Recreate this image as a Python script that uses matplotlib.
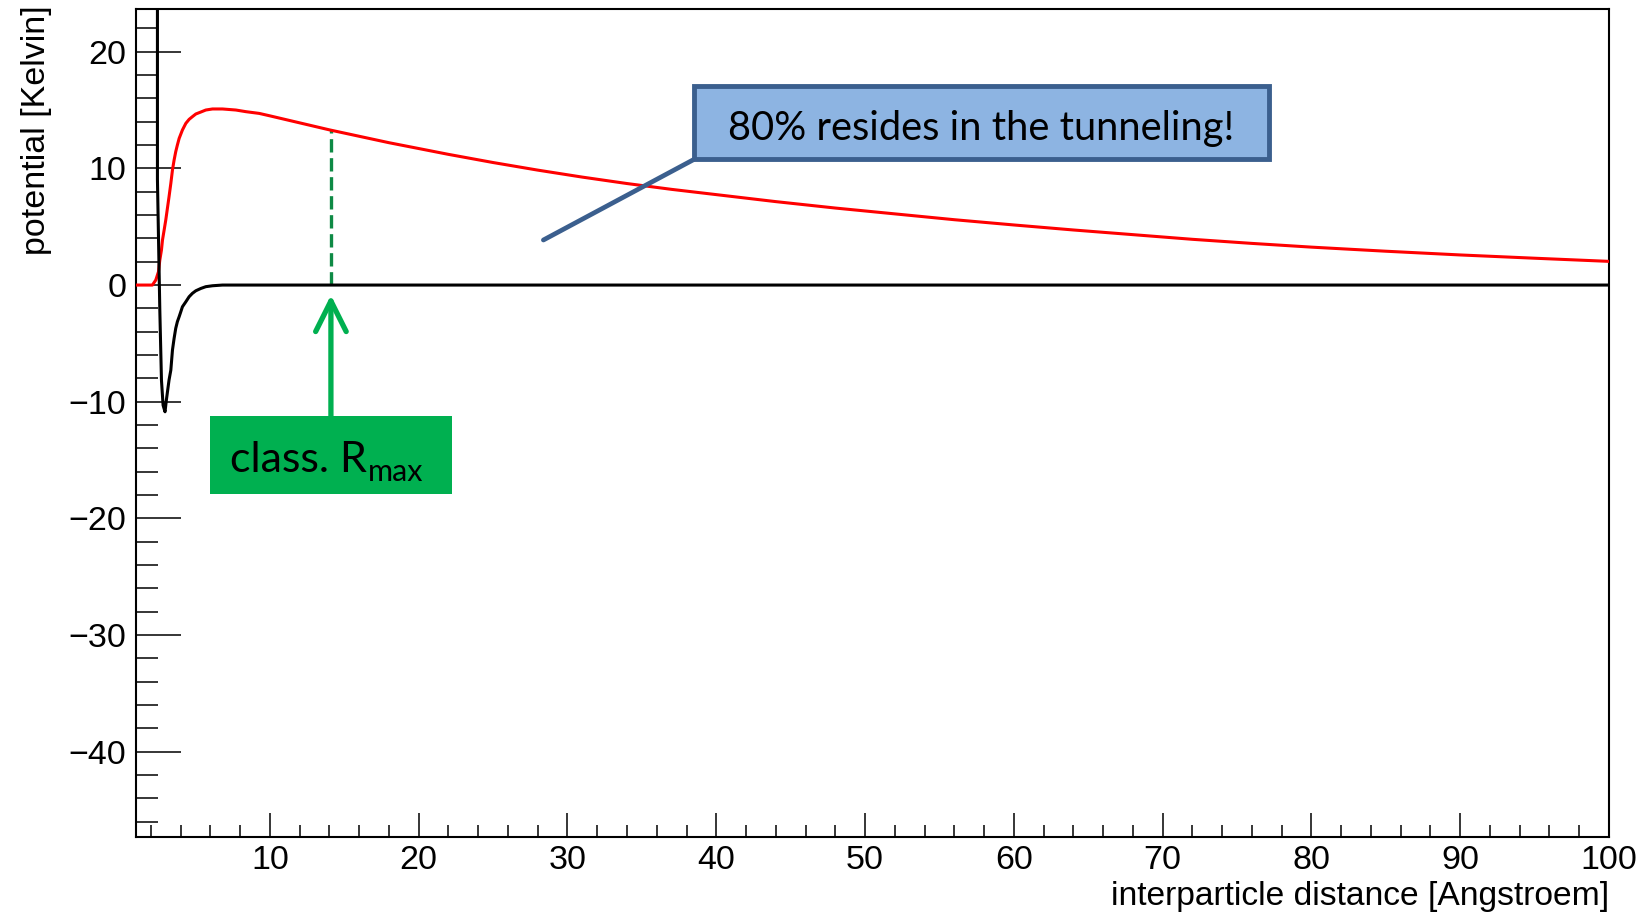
import matplotlib
matplotlib.use('Agg')
import matplotlib.pyplot as plt
from matplotlib.ticker import MultipleLocator
from matplotlib.patches import Rectangle

# effective potential (red)
dist_red = [1.0, 2.1, 2.33, 2.51, 2.60, 2.71, 2.78, 2.89, 3.0, 3.11, 3.22, 3.34,
            3.45, 3.56, 3.67, 3.78, 3.90, 4.12, 4.35, 4.57, 4.79, 5.02, 5.36,
            5.69, 6.14, 6.81, 7.71, 8.38, 9.28, 10.0, 12.0, 14.0, 16.0, 18.0,
            20.0, 22.0, 25.0, 28.0, 31.0, 34.0, 37.0, 40.0, 44.0, 48.0, 52.0,
            56.0, 60.0, 64.0, 68.0, 72.0, 76.0, 80.0, 85.0, 90.0, 95.0, 100.0]
pot_red = [0.0, 0.0, 0.43, 1.14, 2.14, 3.0, 3.86, 4.71, 5.57, 6.57, 7.57, 8.71,
           9.86, 10.71, 11.43, 12.0, 12.57, 13.29, 13.86, 14.2, 14.43, 14.66, 14.83,
           15.0, 15.09, 15.09, 15.0, 14.86, 14.71, 14.5, 13.9, 13.3, 12.75, 12.2,
           11.7, 11.2, 10.5, 9.85, 9.25, 8.7, 8.2, 7.75, 7.15, 6.6, 6.1,
           5.6, 5.15, 4.72, 4.32, 3.92, 3.57, 3.25, 2.9, 2.58, 2.3, 2.03]

# He-He potential (black)
dist_black = [2.44, 2.44, 2.60, 2.71, 2.82, 2.95, 3.04, 3.22, 3.34, 3.45, 3.56,
              3.67, 3.78, 3.90, 4.01, 4.12, 4.35, 4.57, 4.79, 5.02, 5.36, 5.69,
              6.14, 6.81, 100.0]
pot_black = [60.0, 9.06, -2.14, -8.14, -10.3, -10.86, -9.86, -8.14, -7.29, -5.57,
             -4.57, -3.71, -3.14, -2.71, -2.29, -1.86, -1.43, -1.0, -0.71, -0.49,
             -0.29, -0.14, -0.06, 0.0, 0.0]

r_max = 14.1
pot_at_rmax = 13.3

green = '#00B050'
blue_face = '#8DB4E2'
blue_edge = '#3B5F8E'

fig = plt.figure(figsize=(16.43, 9.13), dpi=100)
ax = fig.add_axes([0.08278, 0.08324, 0.89653, 0.90745])
ax.set_xlim(1, 100)
ax.set_ylim(-47.3, 23.7)

ax.plot(dist_red, pot_red, color='red', lw=2.2, zorder=3)
ax.plot(dist_black, pot_black, color='black', lw=2.2, zorder=4)
ax.plot([r_max, r_max], [0, pot_at_rmax], color='#0E8A45', lw=2.4,
        ls=(0, (4.0, 1.7)), zorder=2)

# ticks, ROOT style
ax.xaxis.set_major_locator(MultipleLocator(10))
ax.xaxis.set_minor_locator(MultipleLocator(2))
ax.yaxis.set_major_locator(MultipleLocator(10))
ax.yaxis.set_minor_locator(MultipleLocator(2))
ax.tick_params(axis='both', which='both', direction='in', top=False, right=False,
               color='black', width=1.1, labelsize=24.5)
ax.tick_params(axis='y', which='major', length=32.4, pad=7)
ax.tick_params(axis='y', which='minor', length=16)
ax.tick_params(axis='x', which='major', length=17.3, pad=6)
ax.tick_params(axis='x', which='minor', length=8.6)
for lab in ax.get_xticklabels() + ax.get_yticklabels():
    lab.set_family('Liberation Sans')
for sp in ax.spines.values():
    sp.set_linewidth(1.5)

fig.text(1609 / 1643, 1 - 896 / 913, 'interparticle distance [Angstroem]',
         ha='right', va='center', fontsize=24.2, family='Liberation Sans')
fig.text(36.7 / 1643, 1 - 5 / 913, 'potential [Kelvin]', rotation=90,
         ha='center', va='top', fontsize=24.5, family='Liberation Sans')

# green box + arrow
ax.add_patch(Rectangle((5.96, -17.9), 16.29, 6.65, facecolor=green,
                       edgecolor='none', zorder=5))
main_txt = ax.text(7.29, -15.99, 'class. R', fontsize=31, family='Lato',
                   va='baseline', ha='left', zorder=6)
ax.annotate('max', xy=(1, 0), xycoords=main_txt, xytext=(1, -2),
            textcoords='offset points', fontsize=22, family='Lato',
            va='baseline', ha='left', zorder=6)
ax.annotate('', xy=(r_max, -0.86), xytext=(r_max, -11.25),
            arrowprops=dict(arrowstyle='->,head_length=1.1,head_width=0.55',
                            lw=3.8, color=green, shrinkA=0, shrinkB=0,
                            mutation_scale=20, capstyle='round',
                            joinstyle='round'), zorder=5)

# blue callout
ax.annotate('', xy=(28.38, 3.86), xytext=(38.49, 10.76),
            arrowprops=dict(arrowstyle='-', lw=3.4, color=blue_edge,
                            shrinkA=0, shrinkB=0), zorder=6)
ax.add_patch(Rectangle((38.49, 10.76), 38.63, 6.34, facecolor=blue_face,
                       edgecolor=blue_edge, lw=3.5, zorder=7))
ax.text(57.8, 12.39, '80% resides in the tunneling!', fontsize=28.7,
        family='Lato', va='baseline', ha='center', zorder=8)

fig.savefig('out.png', dpi=100)
